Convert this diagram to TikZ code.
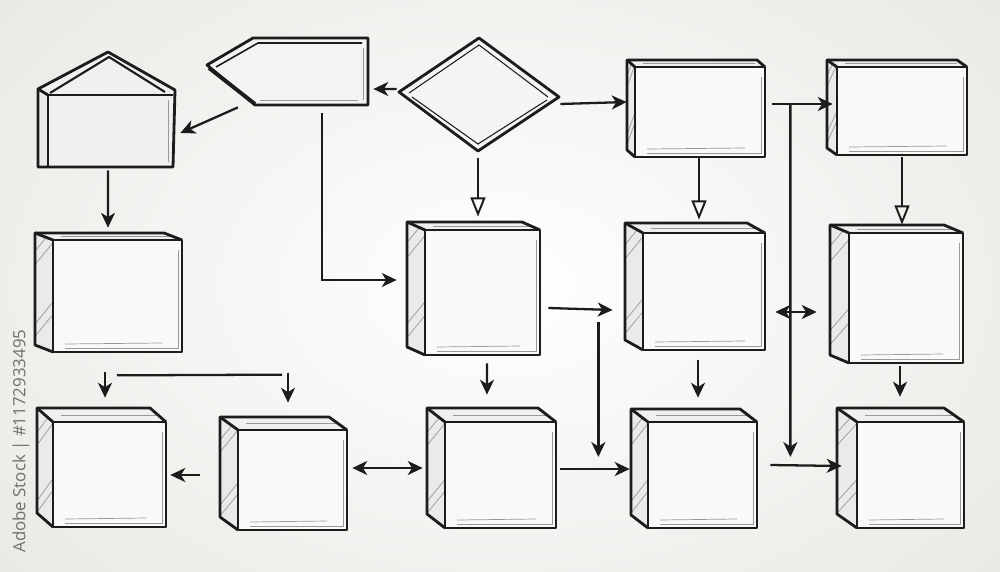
\documentclass[tikz,border=0pt]{standalone}
\usepackage{fontspec}
\newfontfamily\wmfont{Open Sans}
\usetikzlibrary{arrows.meta,calc,fit}
\definecolor{ink}{HTML}{1C1C1C}
\definecolor{bgedge}{HTML}{EAE9E5}
\definecolor{facefill}{HTML}{F9F9F8}
\definecolor{sidefill}{HTML}{EAEAE8}
\definecolor{topfill}{HTML}{F0F0EE}
\definecolor{hatch}{HTML}{999999}
\definecolor{wmgray}{HTML}{707070}

\tikzset{
  outline/.style={draw=ink, line width=1.6pt, line join=round},
  thinline/.style={draw=ink, line width=0.6pt},
  hatchline/.style={draw=hatch, line width=0.4pt},
  conn/.style={draw=ink, line width=1.3pt},
  arr/.style={conn, -{Stealth[length=8.5pt,width=8pt,inset=2.5pt]}},
  darr/.style={conn, {Stealth[length=8.5pt,width=8pt,inset=2.5pt]}-{Stealth[length=8.5pt,width=8pt,inset=2.5pt]}},
  oarr/.style={conn, -{Triangle[open,length=11pt,width=8.5pt,line width=1.1pt]}},
}

% name, x1, y1, x2, y2 (front face), dx, dy (depth offset)
\newcommand{\cubebox}[7]{%
  \coordinate (#1-a) at (#2,#3);
  \coordinate (#1-b) at (#4,#5);
  \node[inner sep=0pt, fit=(#1-a)(#1-b)] (#1) {};
  \path[fill=facefill] (#2,#3) rectangle (#4,#5);
  \path[fill=sidefill] (#2,#3) -- ({#2+(#6)},{#3+(#7)}) -- ({#2+(#6)},{#5+(#7)}) -- (#2,#5) -- cycle;
  \path[fill=topfill] (#2,#3) -- ({#2+(#6)},{#3+(#7)}) -- ({#4+(#6)},{#3+(#7)}) -- (#4,#3) -- cycle;
  \begin{scope}
    \clip (#2,#3) -- ({#2+(#6)},{#3+(#7)}) -- ({#2+(#6)},{#5+(#7)}) -- (#2,#5) -- cycle;
    \foreach \t in {0.1,0.22,0.75,0.86}
      \draw[hatchline] ({#2+(#6)},{#3+(\t)*(#5-#3)}) -- (#2,{#3+(\t)*(#5-#3)-22});
  \end{scope}
  \draw[hatchline] ({#4-4},{#3+10}) -- ({#4-4},{#5-4}) -- ({#2+12},{#5-4});
  \draw[hatchline] ({#2+12},{#5-8}) -- ({#4-20},{#5-9});
  \draw[hatchline] ({#2+8},{#3+(#7)*0.5}) -- ({#4-10},{#3+(#7)*0.5});
  \draw[outline] (#2,#3) rectangle (#4,#5);
  \draw[outline] (#2,#5) -- ({#2+(#6)},{#5+(#7)}) -- ({#2+(#6)},{#3+(#7)}) -- ({#4+(#6)},{#3+(#7)}) -- (#4,#3);
  \draw[outline] (#2,#3) -- ({#2+(#6)},{#3+(#7)});
}

\begin{document}
\begin{tikzpicture}[x=0.02cm, y=-0.02cm]
\useasboundingbox (0,0) rectangle (1000,571);
\shade[inner color=white, outer color=bgedge] (-150,-150) rectangle (1150,721);

% ---------- house shape ----------
\coordinate (house-a) at (38,52);
\coordinate (house-b) at (175,167);
\node[inner sep=0pt, fit=(house-a)(house-b)] (house) {};
\path[fill=sidefill] (38,167) -- (38,89) -- (48,95) -- (48,167) -- cycle;
\path[fill=topfill] (38,89) -- (108,52) -- (175,90) -- (48,95) -- cycle;
\path[fill=facefill!93!gray] (48,95) rectangle (173,167);
\draw[outline] (38,167) -- (38,89) -- (108,52) -- (175,90) -- (173,167) -- cycle;
\draw[outline] (48,167) -- (48,95) -- (173,95);
\draw[outline] (38,89) -- (48,95);
\draw[outline, line width=1.2pt] (50,93) -- (109,57) -- (165,92);
\draw[hatchline] (168,100) -- (168,162);

% ---------- pointer shape ----------
\coordinate (ptr-a) at (207,38);
\coordinate (ptr-b) at (368,105);
\node[inner sep=0pt, fit=(ptr-a)(ptr-b)] (ptr) {};
\filldraw[outline, fill=facefill!95!gray] (207,65) -- (253,38) -- (368,38) -- (368,105) -- (255,105) -- cycle;
\draw[thinline, line width=0.9pt] (216,67) -- (258,43) -- (362,43);
\draw[outline, line width=2.2pt] (209,68) -- (255,104);
\draw[hatchline] (363,48) -- (363,100);
\draw[hatchline] (260,100) -- (358,100);

% ---------- diamond ----------
\coordinate (dia-a) at (399,38);
\coordinate (dia-b) at (559,151);
\node[inner sep=0pt, fit=(dia-a)(dia-b)] (dia) {};
\filldraw[outline, fill=facefill!96!gray] (399,92) -- (479,38) -- (559,97) -- (478,151) -- cycle;
\draw[thinline] (409,93) -- (479,45) -- (548,97);
\draw[thinline] (412,97) -- (478,144) -- (547,100);

% ---------- flat 3D boxes (top row) ----------
\cubebox{bG}{635}{67}{765}{157}{-8}{-7}
\cubebox{bF}{837}{67}{967}{155}{-10}{-7}

% ---------- cubes ----------
\cubebox{cB}{53}{240}{182}{352}{-18}{-7}
\cubebox{cC}{425}{230}{540}{355}{-18}{-8}
\cubebox{cD}{643}{233}{765}{350}{-18}{-10}
\cubebox{cE}{849}{233}{963}{363}{-19}{-8}
\cubebox{cH}{53}{422}{166}{527}{-16}{-14}
\cubebox{cI}{238}{430}{347}{530}{-18}{-13}
\cubebox{cJ}{445}{422}{556}{528}{-18}{-14}
\cubebox{cK}{648}{422}{757}{528}{-17}{-13}
\cubebox{cL}{857}{422}{964}{528}{-20}{-14}

% ---------- connectors ----------
\draw[arr] ($(dia.west)+(-2,-5.5)$) -- ($(ptr.east)+(5,17.5)$);
\draw[arr] ($(ptr.south)+(-49.5,2)$) -- ($(house.east)+(5,23.5)$);
\draw[arr] ($(house.south)+(1.5,3)$) -- ($(cB.north)+(-9.5,-12)$);
\draw[arr] ($(ptr.south)+(34.5,8)$) |- ($(cC.west)+(-28,-12.5)$);
\draw[oarr] ($(dia.south)+(-1,7)$) -- ($(cC.north)+(-4.5,-13)$);
\draw[arr] ($(dia.east)+(1,9.5)$) -- ($(bG.west)+(-8,-10)$);
\draw[oarr] ($(bG.south)+(-1,1)$) -- ($(cD.north)+(-5,-13)$);
\draw[oarr] ($(bF.south)+(0,2)$) -- ($(cE.north)+(-4,-8)$);
\draw[arr] ($(bG.east)+(7,-8)$) -- ($(bF.west)+(-4,-7)$);
\draw[arr] ($(bG.east)+(25,-8)$) -- ($(cK.east)+(33,-18)$);
\draw[darr] ($(cD.east)+(10,20.5)$) -- ($(cE.west)+(-32,14)$);
\draw[arr] ($(cC.east)+(8,15.5)$) -- ($(cD.west)+(-30,18.5)$);
\draw[arr] ($(cC.east)+(58,29.5)$) -- ($(cJ.east)+(42,-18)$);
\draw[arr] ($(cC.south)+(4.5,8)$) -- ($(cJ.north)+(-13.5,-27)$);
\draw[arr] ($(cD.south)+(-6,10)$) -- ($(cK.north)+(-4.5,-24)$);
\draw[arr] ($(cE.south)+(-6,3)$) -- ($(cL.north)+(-10.5,-25)$);
\draw[arr] ($(cJ.east)+(4,-6)$) -- ($(cK.west)+(-18,-6)$);
\draw[arr] ($(cK.east)+(13,-10)$) -- ($(cL.west)+(-15,-9)$);
\draw[darr] ($(cI.east)+(5,-12)$) -- ($(cJ.west)+(-22,-7)$);
\draw[arr] ($(cI.west)+(-38,-5)$) -- ($(cH.east)+(4,0.5)$);
\draw[arr] ($(cB.south)+(-12.5,20)$) -- ($(cH.north)+(-4.5,-24)$);
\draw[conn] ($(cB.south)+(-0.5,23)$) -- ($(cI.north)+(-10.5,-55)$);
\draw[arr] ($(cI.north)+(-4.5,-57)$) -- ($(cI.north)+(-4.5,-27)$);

% ---------- watermark id ----------
\node[rotate=90, anchor=west, inner sep=0pt, text=wmgray, font=\wmfont\fontsize{9.6}{12}\selectfont] (wm) at (21,553) {Adobe Stock \textbar{} \#1172933495};
\end{tikzpicture}
\end{document}
